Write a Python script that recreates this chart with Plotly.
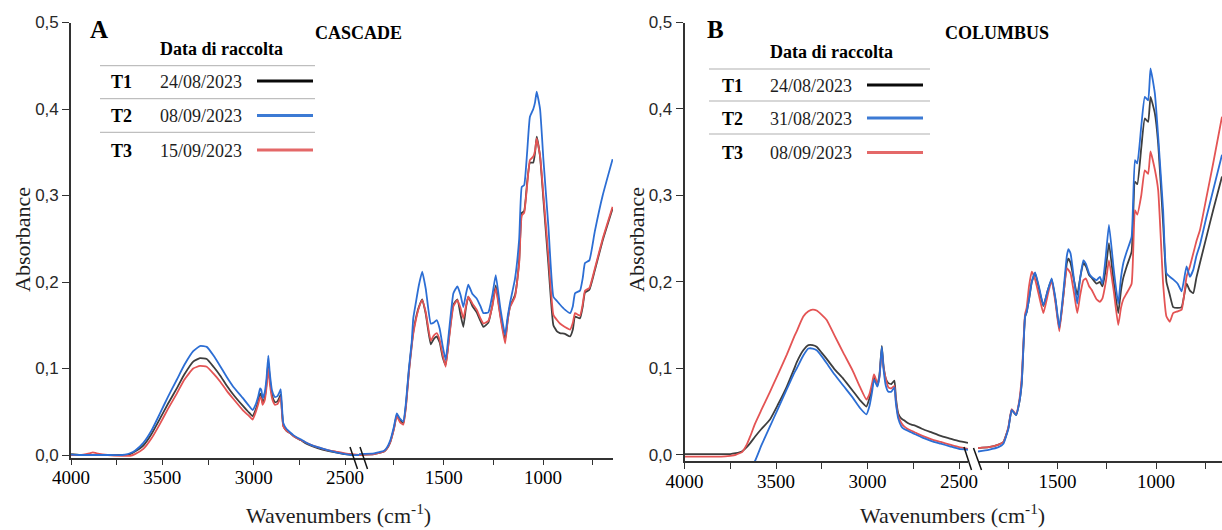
import plotly.graph_objects as go

W, H = 1222, 530
def X(px): return px / W
def Y(py): return 1 - py / H

# ---------------- DATA ----------------
# Panel A (CASCADE), high-wavenumber segment
wnA_L = [4000, 3950, 3900, 3880, 3860, 3800, 3720, 3690, 3677, 3650,
         3604, 3560, 3513, 3470, 3421, 3380, 3331, 3294, 3257, 3220,
         3184, 3150, 3112, 3060, 3030, 3006, 2990, 2975, 2965, 2958,
         2951, 2940, 2930, 2920, 2912, 2900, 2890, 2883, 2870, 2860,
         2852, 2845, 2838, 2820, 2800, 2783, 2760, 2740, 2719, 2690,
         2650, 2600, 2550, 2500, 2460, 2424]
A_T1_L = [0.001, 0.0, 0.0, 0.0, 0.0, 0.0, 0.0, 0.0, 0.001, 0.004,
          0.011, 0.024, 0.042, 0.059, 0.077, 0.093, 0.108, 0.112, 0.111, 0.102,
          0.092, 0.081, 0.070, 0.057, 0.050, 0.045, 0.052, 0.062, 0.071, 0.069,
          0.060, 0.066, 0.082, 0.108, 0.089, 0.070, 0.063, 0.061, 0.062, 0.066,
          0.070, 0.050, 0.034, 0.028, 0.025, 0.022, 0.019, 0.017, 0.014, 0.011,
          0.008, 0.005, 0.003, 0.001, 0.0, 0.0]
A_T2_L = [0.0005, 0.0, 0.0, 0.0, 0.0, 0.0, 0.0, 0.001, 0.002, 0.005,
          0.014, 0.028, 0.048, 0.067, 0.087, 0.104, 0.120, 0.126, 0.125, 0.115,
          0.103, 0.091, 0.079, 0.066, 0.058, 0.052, 0.058, 0.068, 0.077, 0.075,
          0.066, 0.072, 0.088, 0.115, 0.095, 0.075, 0.069, 0.067, 0.068, 0.072,
          0.076, 0.055, 0.037, 0.030, 0.026, 0.023, 0.020, 0.018, 0.015, 0.012,
          0.009, 0.006, 0.003, 0.001, 0.0, 0.0]
A_T3_L = [0.0, 0.0, 0.002, 0.003, 0.002, 0.0, -0.001, -0.001, -0.001, 0.001,
          0.007, 0.019, 0.036, 0.053, 0.071, 0.087, 0.100, 0.103, 0.102, 0.094,
          0.085, 0.075, 0.065, 0.052, 0.046, 0.041, 0.049, 0.059, 0.067, 0.065,
          0.058, 0.063, 0.078, 0.100, 0.083, 0.066, 0.060, 0.058, 0.059, 0.063,
          0.067, 0.048, 0.033, 0.028, 0.025, 0.022, 0.019, 0.017, 0.015, 0.012,
          0.009, 0.006, 0.004, 0.002, 0.001, 0.0]

# Panel A, fingerprint segment
wnA_R = [1926, 1850, 1800, 1787, 1770, 1750, 1736, 1720, 1703, 1690,
         1675, 1661, 1653, 1640, 1625, 1608, 1590, 1565, 1550, 1535,
         1520, 1505, 1490, 1470, 1451, 1431, 1415, 1401, 1388, 1376,
         1355, 1334, 1315, 1300, 1275, 1255, 1238, 1215, 1191, 1178,
         1166, 1141, 1120, 1107, 1095, 1080, 1066, 1049, 1040, 1032,
         1015, 998, 973, 948, 930, 915, 890, 864, 850, 839,
         814, 800, 789, 767, 740, 700, 650]
A_T1_R = [0.0, 0.001, 0.004, 0.007, 0.014, 0.031, 0.046, 0.040, 0.037, 0.057,
          0.097, 0.127, 0.142, 0.158, 0.171, 0.180, 0.163, 0.128, 0.134, 0.137,
          0.130, 0.113, 0.104, 0.142, 0.174, 0.180, 0.162, 0.148, 0.170, 0.183,
          0.172, 0.165, 0.155, 0.148, 0.153, 0.173, 0.196, 0.162, 0.133, 0.156,
          0.172, 0.185, 0.225, 0.280, 0.282, 0.315, 0.338, 0.338, 0.350, 0.368,
          0.345, 0.295, 0.220, 0.150, 0.143, 0.141, 0.140, 0.137, 0.145, 0.160,
          0.158, 0.172, 0.188, 0.191, 0.213, 0.248, 0.285]
A_T2_R = [0.001, 0.002, 0.005, 0.008, 0.016, 0.033, 0.048, 0.042, 0.039, 0.060,
          0.100, 0.130, 0.158, 0.176, 0.196, 0.212, 0.192, 0.152, 0.153, 0.156,
          0.146, 0.126, 0.110, 0.150, 0.187, 0.195, 0.185, 0.171, 0.186, 0.197,
          0.186, 0.181, 0.172, 0.164, 0.165, 0.185, 0.208, 0.170, 0.139, 0.160,
          0.176, 0.204, 0.250, 0.310, 0.312, 0.350, 0.391, 0.400, 0.408, 0.420,
          0.400, 0.341, 0.264, 0.183, 0.178, 0.174, 0.168, 0.164, 0.172, 0.187,
          0.190, 0.205, 0.222, 0.225, 0.258, 0.300, 0.342]
A_T3_R = [0.0, 0.001, 0.004, 0.007, 0.014, 0.030, 0.045, 0.038, 0.035, 0.055,
          0.095, 0.125, 0.140, 0.156, 0.170, 0.179, 0.165, 0.132, 0.138, 0.141,
          0.133, 0.116, 0.102, 0.140, 0.172, 0.179, 0.170, 0.158, 0.172, 0.183,
          0.175, 0.168, 0.158, 0.152, 0.155, 0.172, 0.193, 0.160, 0.129, 0.155,
          0.171, 0.183, 0.222, 0.277, 0.280, 0.312, 0.341, 0.345, 0.352, 0.366,
          0.346, 0.300, 0.230, 0.162, 0.156, 0.152, 0.148, 0.145, 0.153, 0.164,
          0.161, 0.175, 0.190, 0.193, 0.215, 0.250, 0.287]

# Panel B (COLUMBUS), high-wavenumber segment
wnB_L = [4000, 3900, 3800, 3750, 3720, 3700, 3687, 3660, 3640, 3615,
         3580, 3533, 3490, 3441, 3400, 3387, 3351, 3323, 3300, 3278,
         3250, 3223, 3180, 3132, 3080, 3040, 3006, 2990, 2975, 2965,
         2955, 2946, 2935, 2922, 2912, 2900, 2886, 2870, 2853, 2845,
         2832, 2815, 2800, 2780, 2760, 2740, 2731, 2700, 2650, 2600,
         2550, 2500, 2451]
B_T1_L = [0.001, 0.001, 0.001, 0.001, 0.002, 0.003, 0.004, 0.009, 0.014, 0.021,
          0.030, 0.041, 0.058, 0.079, 0.100, 0.107, 0.121, 0.127, 0.127, 0.125,
          0.118, 0.111, 0.099, 0.088, 0.074, 0.063, 0.056, 0.065, 0.078, 0.090,
          0.086, 0.082, 0.092, 0.126, 0.102, 0.088, 0.083, 0.082, 0.086, 0.066,
          0.048, 0.042, 0.040, 0.037, 0.035, 0.034, 0.033, 0.030, 0.026, 0.022,
          0.019, 0.016, 0.014]
B_T2_L = [-0.03, -0.03, -0.03, -0.03, -0.03, -0.028, -0.025, -0.019, -0.013, -0.007,
          0.011, 0.033, 0.053, 0.076, 0.095, 0.100, 0.115, 0.123, 0.123, 0.121,
          0.114, 0.106, 0.093, 0.080, 0.066, 0.054, 0.047, 0.056, 0.073, 0.087,
          0.083, 0.079, 0.090, 0.125, 0.098, 0.080, 0.073, 0.073, 0.078, 0.060,
          0.042, 0.033, 0.030, 0.028, 0.026, 0.024, 0.023, 0.020, 0.016, 0.013,
          0.010, 0.007, 0.006]
B_T3_L = [-0.002, -0.002, -0.002, -0.001, 0.0, 0.002, 0.003, 0.012, 0.022, 0.036,
          0.052, 0.073, 0.093, 0.116, 0.137, 0.143, 0.160, 0.166, 0.168, 0.167,
          0.162, 0.156, 0.138, 0.118, 0.097, 0.078, 0.064, 0.070, 0.083, 0.093,
          0.088, 0.080, 0.090, 0.120, 0.100, 0.088, 0.078, 0.077, 0.080, 0.062,
          0.045, 0.037, 0.033, 0.030, 0.028, 0.026, 0.025, 0.022, 0.018, 0.015,
          0.012, 0.009, 0.007]

# Panel B, fingerprint segment
wnB_R = [1904, 1850, 1800, 1775, 1750, 1733, 1711, 1695, 1682, 1665,
         1657, 1645, 1631, 1614, 1595, 1572, 1550, 1530, 1510, 1491,
         1470, 1453, 1445, 1434, 1415, 1400, 1385, 1369, 1356, 1340,
         1327, 1302, 1285, 1272, 1255, 1239, 1215, 1192, 1178, 1166,
         1149, 1124, 1107, 1095, 1075, 1057, 1040, 1028, 1006, 989,
         964, 947, 930, 913, 890, 870, 845, 828, 811, 795,
         777, 743, 710, 665]
B_T1_R = [0.008, 0.009, 0.012, 0.015, 0.031, 0.052, 0.046, 0.060, 0.083, 0.160,
          0.165, 0.180, 0.200, 0.210, 0.193, 0.172, 0.190, 0.203, 0.178, 0.146,
          0.185, 0.222, 0.227, 0.222, 0.200, 0.185, 0.205, 0.222, 0.218, 0.208,
          0.205, 0.198, 0.200, 0.195, 0.215, 0.245, 0.200, 0.164, 0.190, 0.205,
          0.218, 0.235, 0.316, 0.313, 0.355, 0.389, 0.385, 0.414, 0.395, 0.360,
          0.268, 0.200, 0.185, 0.171, 0.170, 0.171, 0.198, 0.190, 0.187, 0.205,
          0.222, 0.253, 0.283, 0.322]
B_T2_R = [0.004, 0.006, 0.009, 0.013, 0.030, 0.052, 0.046, 0.060, 0.083, 0.160,
          0.165, 0.180, 0.200, 0.211, 0.195, 0.173, 0.190, 0.204, 0.180, 0.147,
          0.190, 0.230, 0.238, 0.233, 0.200, 0.175, 0.205, 0.225, 0.221, 0.210,
          0.206, 0.202, 0.206, 0.198, 0.230, 0.266, 0.215, 0.175, 0.205, 0.222,
          0.235, 0.252, 0.341, 0.337, 0.380, 0.414, 0.410, 0.447, 0.418, 0.368,
          0.283, 0.210, 0.206, 0.203, 0.198, 0.189, 0.218, 0.206, 0.214, 0.230,
          0.243, 0.276, 0.306, 0.347]
B_T3_R = [0.008, 0.009, 0.012, 0.015, 0.032, 0.053, 0.047, 0.062, 0.090, 0.163,
          0.170, 0.195, 0.212, 0.203, 0.185, 0.164, 0.185, 0.202, 0.175, 0.143,
          0.185, 0.216, 0.214, 0.210, 0.185, 0.164, 0.185, 0.202, 0.204, 0.195,
          0.191, 0.180, 0.177, 0.181, 0.200, 0.225, 0.190, 0.150, 0.170, 0.180,
          0.187, 0.198, 0.283, 0.278, 0.300, 0.329, 0.325, 0.351, 0.330, 0.306,
          0.198, 0.160, 0.154, 0.164, 0.166, 0.168, 0.206, 0.218, 0.233, 0.247,
          0.260, 0.299, 0.337, 0.391]

series_codes = ["T1", "T2", "T3"]
dates_A = ["24/08/2023", "08/09/2023", "15/09/2023"]
dates_B = ["24/08/2023", "31/08/2023", "08/09/2023"]
y_ticks = [0.0, 0.1, 0.2, 0.3, 0.4, 0.5]
y_ticktext = ["0,0", "0,1", "0,2", "0,3", "0,4", "0,5"]
xL_major = [4000, 3500, 3000, 2500]
xL_minor = [3750, 3250, 2750]
xR_major = [1500, 1000]
xR_minor = [1750, 1250, 750]

# ---------------- STYLE ----------------
line_col = {"T1": "rgb(62,62,62)", "T2": "rgb(44,110,212)", "T3": "rgb(228,84,84)"}
leg_col = {"T1": "rgb(10,10,10)", "T2": "rgb(60,122,212)", "T3": "rgb(228,104,104)"}
SERIF = "Liberation Serif, Times New Roman, serif"
SANS = "Liberation Sans, Arial, sans-serif"
AX = "rgb(50,50,50)"

fig = go.Figure()

def add(x, y, xa, ya, code):
    fig.add_trace(go.Scatter(x=x, y=y, mode="lines", xaxis=xa, yaxis=ya,
                             line=dict(color=line_col[code], width=1.8,
                                       shape="spline", smoothing=0.4),
                             showlegend=False, hoverinfo="skip"))

panels = [
    ("x", "x2", "y", wnA_L, wnA_R, {"T1": (A_T1_L, A_T1_R), "T2": (A_T2_L, A_T2_R), "T3": (A_T3_L, A_T3_R)}),
    ("x3", "x4", "y2", wnB_L, wnB_R, {"T1": (B_T1_L, B_T1_R), "T2": (B_T2_L, B_T2_R), "T3": (B_T3_L, B_T3_R)}),
]
for xl, xr, ya, wl, wr, d in panels:
    for code in ["T1", "T3", "T2"]:
        add(wl, d[code][0], xl, ya, code)
        add(wr, d[code][1], xr, ya, code)

def xax(dom, rng, anchor, tv, mv):
    return dict(domain=[X(dom[0]), X(dom[1])], range=rng, anchor=anchor, automargin=False,
                showline=True, linecolor=AX, linewidth=1.6, mirror=False,
                ticks="outside", ticklen=6, tickwidth=1.4, tickcolor=AX,
                tickmode="array", tickvals=tv, ticktext=[str(v) for v in tv],
                ticklabelstandoff=-4,
                minor=dict(tickmode="array", tickvals=mv, ticks="outside", ticklen=6,
                           tickwidth=1.4, tickcolor=AX, showgrid=False),
                showgrid=False, zeroline=False,
                tickfont=dict(family=SERIF, size=19, color="black"))

def yax(bottom_px, rng, anchor):
    return dict(domain=[Y(bottom_px), Y(22.5)], range=rng, anchor=anchor, automargin=False,
                showline=True, linecolor=AX, linewidth=1.6,
                ticks="outside", ticklen=7, tickwidth=1.4, tickcolor=AX,
                tickmode="array", tickvals=y_ticks, ticktext=y_ticktext,
                showgrid=False, zeroline=False,
                tickfont=dict(family=SANS, size=17, color="rgb(40,40,40)"))

fig.update_layout(
    width=W, height=H, margin=dict(l=0, r=0, t=0, b=0, autoexpand=False),
    paper_bgcolor="white", plot_bgcolor="white", showlegend=False,
    xaxis=xax((71, 359), [4000, 2423.6], "y", xL_major, xL_minor),
    xaxis2=xax((359, 613), [1926, 648], "y", xR_major, xR_minor),
    xaxis3=xax((684.5, 968), [4000, 2451], "y2", xL_major, xL_minor),
    xaxis4=xax((978, 1222), [1904, 665], "y2", xR_major, xR_minor),
    yaxis=yax(457.6, [-0.003, 0.5], "x"),
    yaxis2=yax(461, [-0.007, 0.5], "x3"),
)

ann = []
shapes = []
def text(px, py, s, size, family=SERIF, xanchor="center", angle=0, color="black"):
    ann.append(dict(x=X(px), y=Y(py), xref="paper", yref="paper", text=s, showarrow=False,
                    xanchor=xanchor, yanchor="middle", textangle=angle,
                    font=dict(family=family, size=size, color=color)))

def seg(x0, y0, x1, y1, color, width):
    shapes.append(dict(type="line", xref="paper", yref="paper", x0=X(x0), y0=Y(y0),
                       x1=X(x1), y1=Y(y1), line=dict(color=color, width=width)))

# axis titles
for cx in (22, 636):
    text(cx, 240, "Absorbance", 22, angle=-90, color="rgb(30,30,30)")
for cx in (338, 952):
    text(cx, 514, "Wavenumbers (cm<sup>-1</sup>)", 22, color="rgb(30,30,30)")

# panel letters & cultivar names
text(99, 30, "<b>A</b>", 25)
text(715, 30, "<b>B</b>", 25)
text(313, 33, "<b>CASCADE</b>", 18, xanchor="left")
text(943, 33, "<b>COLUMBUS</b>", 18, xanchor="left")

# legends
legends = [
    dict(dates=dates_A, head_y=49, seps=(65.7, 98.7, 132.3), sx=(100, 315), rows=(81.5, 116, 150.5),
         tx=121, dx=158, lx=(257, 313)),
    dict(dates=dates_B, head_y=52, seps=(69, 101, 134), sx=(709, 930), rows=(85.5, 118.5, 153),
         tx=732, dx=768, lx=(867, 923)),
]
for L in legends:
    text(L["dx"], L["head_y"], "<b>Data di raccolta</b>", 18, xanchor="left")
    for s in L["seps"]:
        seg(L["sx"][0], s, L["sx"][1], s, "rgb(175,175,175)", 1)
    for code, date, ry in zip(series_codes, L["dates"], L["rows"]):
        text(L["tx"], ry, "<b>" + code + "</b>", 18)
        text(L["dx"], ry, date, 18, xanchor="left", color="rgb(30,30,30)")
        seg(L["lx"][0], ry - 0.5, L["lx"][1], ry - 0.5, leg_col[code], 3)

# axis break marks
for (a0, a1) in [((350, 447), (357.5, 469)), ((360, 447), (367.5, 469)),
                 ((964, 447), (971.5, 470)), ((973.5, 448), (981.5, 470))]:
    seg(a0[0], a0[1], a1[0], a1[1], "rgb(20,20,20)", 1.5)

fig.update_layout(annotations=ann, shapes=shapes)
fig.write_html("out.html")
